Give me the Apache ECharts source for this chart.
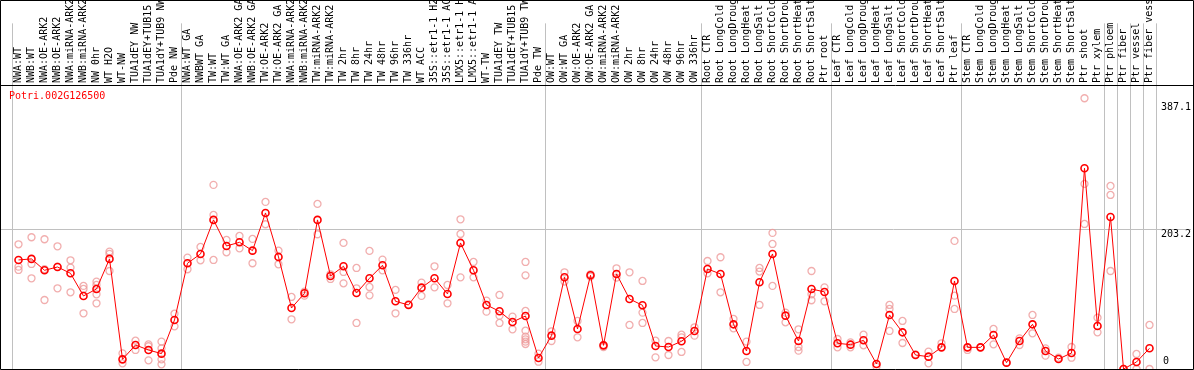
<!DOCTYPE html>
<html><head><meta charset="utf-8">
<script src="https://cdn.jsdelivr.net/npm/echarts@6/dist/echarts.min.js"></script>
<style>html,body{margin:0;padding:0;background:#fff}#c{width:1194px;height:370px}</style>
</head><body><div id="c"></div>
<script>
const geneId = 'Potri.002G126500';
const categories = [
 'NWA:WT','NWB:WT','NWA:OE-ARK2','NWB:OE-ARK2','NWA:miRNA-ARK2','NWB:miRNA-ARK2','NW 0hr','WT H2O','WT-NW','TUA1dEY NW',
 'TUA1dEY+TUB15 NW','TUA1dY+TUB9 NW','Pde NW','NWA:WT GA','NWBWT GA','TW:WT','TW:WT GA','NWA:OE-ARK2 GA','NWB:OE-ARK2 GA','TW:OE-ARK2',
 'TW:OE-ARK2 GA','NWA:miRNA-ARK2 GA','NWB:miRNA-ARK2 GA','TW:miRNA-ARK2','TW:miRNA-ARK2 GA','TW 2hr','TW 8hr','TW 24hr','TW 48hr','TW 96hr',
 'TW 336hr','WT ACC','35S::etr1-1 H2O','35S::etr1-1 ACC','LMX5::etr1-1 H2O','LMX5::etr1-1 ACC','WT-TW','TUA1dEY TW','TUA1dEY+TUB15 TW','TUA1dY+TUB9 TW',
 'Pde TW','OW:WT','OW:WT GA','OW:OE-ARK2','OW:OE-ARK2 GA','OW:miRNA-ARK2','OW:miRNA-ARK2 GA','OW 2hr','OW 8hr','OW 24hr',
 'OW 48hr','OW 96hr','OW 336hr','Root CTR','Root LongCold','Root LongDrought','Root LongHeat','Root LongSalt','Root ShortCold','Root ShortDrought',
 'Root ShortHeat','Root ShortSalt','Ptr root','Leaf CTR','Leaf LongCold','Leaf LongDrought','Leaf LongHeat','Leaf LongSalt','Leaf ShortCold','Leaf ShortDrought',
 'Leaf ShortHeat','Leaf ShortSalt','Ptr leaf','Stem CTR','Stem LongCold','Stem LongDrought','Stem LongHeat','Stem LongSalt','Stem ShortCold','Stem ShortDrought',
 'Stem ShortHeat','Stem ShortSalt','Ptr shoot','Ptr xylem','Ptr phloem','Ptr fiber','Ptr vessel','Ptr fiber vessel'
];
const means = [
 158.2,159.7,143.2,148.0,138.8,106.0,116.1,159.7,14.0,34.8,
 27.6,22.3,71.1,153.4,166.9,216.3,178.5,183.8,171.7,226.4,
 162.6,88.5,109.8,216.3,135.0,149.0,110.3,131.6,150.5,98.2,
 92.9,118.0,131.6,108.9,182.9,143.2,92.9,83.7,68.2,76.9,
 16.0,48.4,133.0,58.1,135.9,34.3,137.9,101.6,92.4,33.4,
 31.9,40.2,55.2,145.1,137.9,64.8,26.1,125.8,166.9,77.4,
 40.6,116.1,111.8,37.3,35.3,41.6,7.3,78.4,53.2,20.3,
 17.9,31.4,127.7,31.4,31.4,49.3,9.2,40.6,64.8,26.1,
 14.5,23.2,291.2,62.4,220.6,0,10.2,30.0
];
const replicates = [
 [180.9,148.5,143.7],[191.1,152.4,131.6],[188.2,144.7,100.1],[178.0,148.5,117.1],[157.7,147.1,111.3],
 [120.5,116.1,80.8],[126.8,122.0,108.4,95.3],[170.3,167.0,142.2],[22.7,8.2],[41.1,27.6],
 [35.8,33.0,12.6],[39.7,30.0,14.0,6.8],[80.3,61.9],[161.6,144.7],[177.1,157.7],
 [267.1,223.5,158.2],[187.2,169.3],[193.0,175.1],[188.7,153.4],[242.4,210.0],
 [171.7,151.9],[104.5,72.1],[112.2,106.4],[239.5,195.5],[137.4,130.6],
 [182.9,140.8,124.3],[146.6,117.1,66.8],[171.3,119.0,106.9],[158.7,143.2],[114.7,80.8],
 [93.9],[125.3,106.0],[149.0,118.5],[121.9,95.3],[217.2,195.9,133.0],
 [155.3,133.0],[99.2,83.2],[107.4,77.4,66.8],[76.0,57.6],[155.3,135.9,84.2,55.6,46.9,43.1,39.7,36.3],
 [22.3,10.6],[54.7,40.6],[140.3,126.8],[69.7,46.0],[137.4,134.0],
 [34.8,31.9],[146.1,132.6],[140.3,63.9],[127.7,81.8,66.8],[41.1,16.9],
 [40.6,20.3],[49.8,46.0,24.7],[60.5,48.4],[156.7,138.8],[162.1,111.3],
 [72.6,59.0],[39.7,10.2],[146.6,141.3,92.9],[197.4,181.4,120.5],[81.8,67.7],
 [57.6,31.9,26.6],[142.2,108.4,99.7],[118.5,98.2],[43.5,31.4],[38.7,31.4],
 [49.8,34.3],[3.4],[92.9,87.1,55.2],[69.7,37.7],[21.3],
 [25.2,8.2],[37.3],[185.8,106.4,87.1],[27.6],[31.4],
 [58.1,35.8],[9.2],[44.5,34.8],[78.4,51.8],[30.0,19.4],
 [16.4],[31.9,16.4],[392.8,268.5,210.4],[74.5,53.2],[265.6,252.5,142.2],
 [0],[21.8,0],[63.9,0]
];
const yLabelValues = [203.2, 387.1];
const yZeroLabel = [0];
const yGridValues = [203.2];
const groupStarts = [0, 13, 41, 53, 63, 73, 84, 85, 86, 87];
const yMax = 412;

const mono = 'DejaVu Sans Mono';
const sepLine = {show: true, interval: (i) => groupStarts.indexOf(i) >= 0, lineStyle: {color: '#c0c0c0', width: 1}};
const repData = [];
replicates.forEach((r, i) => r.forEach(v => repData.push([i, v])));

const chart = echarts.init(document.getElementById('c'), null, {renderer: 'canvas'});
chart.setOption({
  animation: false,
  backgroundColor: '#fff',
  title: {text: geneId, left: 9, top: 91, padding: 0,
    textStyle: {color: '#ff0000', fontSize: 10, fontFamily: mono, fontWeight: 'normal'}},
  grid: [
    {left: 12, right: 38, top: 1, height: 84},
    {left: 12, right: 38, top: 85, bottom: 1},
    {left: 1, right: 1, top: 85, bottom: 1}
  ],
  xAxis: [
    {gridIndex: 0, type: 'category', data: categories, position: 'bottom', boundaryGap: true,
     axisLine: {show: false}, axisTick: {show: false}, splitLine: sepLine,
     axisLabel: {inside: true, rotate: 90, margin: 2, interval: 0, color: '#000', fontSize: 10, fontFamily: mono}},
    {gridIndex: 1, type: 'category', data: categories, boundaryGap: true,
     axisLine: {show: false}, axisTick: {show: false}, axisLabel: {show: false}, splitLine: sepLine},
    {gridIndex: 2, type: 'value', min: 0, max: 1, show: false}
  ],
  yAxis: [
    {gridIndex: 0, type: 'value', show: false},
    {gridIndex: 1, type: 'value', min: 0, max: yMax, show: false},
    {gridIndex: 2, type: 'value', min: 0, max: yMax, position: 'right',
     axisLine: {show: false}, axisTick: {show: false, customValues: yGridValues},
     splitLine: {show: true, lineStyle: {color: '#c0c0c0', width: 1}},
     axisLabel: {inside: true, margin: 0, customValues: yLabelValues, verticalAlign: 'top',
       color: '#000', fontSize: 10, fontFamily: mono, formatter: v => String(v)}},
    {gridIndex: 2, type: 'value', min: 0, max: yMax, position: 'right',
     axisLine: {show: false}, axisTick: {show: false}, splitLine: {show: false},
     axisLabel: {inside: true, margin: 0, customValues: yZeroLabel, verticalAlign: 'bottom', padding: [0, 22, 3, 0],
       color: '#000', fontSize: 10, fontFamily: mono, formatter: v => String(v)}}
  ],
  series: [
    {type: 'scatter', xAxisIndex: 1, yAxisIndex: 1, data: repData, symbol: 'circle', symbolSize: 7, z: 2,
     itemStyle: {color: 'transparent', borderColor: '#ee9a9a', borderWidth: 1.3}, silent: true},
    {type: 'line', xAxisIndex: 1, yAxisIndex: 1, data: means, symbol: 'circle', symbolSize: 7, z: 3,
     showAllSymbol: true, clip: false,
     lineStyle: {color: '#ff0000', width: 1}, itemStyle: {color: 'transparent', borderColor: '#ff0000', borderWidth: 1.6}, silent: true}
  ],
  graphic: [
    {type: 'rect', shape: {x: 0.5, y: 0.5, width: 1193, height: 369}, style: {fill: 'none', stroke: '#000', lineWidth: 1}, z: 100, silent: true},
    {type: 'line', shape: {x1: 0, y1: 85.5, x2: 1194, y2: 85.5}, style: {stroke: '#000', lineWidth: 1}, z: 100, silent: true}
  ]
});
</script>
</body></html>
